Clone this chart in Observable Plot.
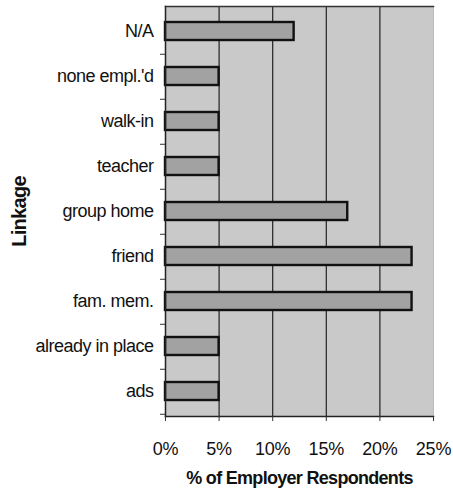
<!DOCTYPE html>
<html>
<head>
<meta charset="utf-8">
<script src="https://cdn.jsdelivr.net/npm/d3@7"></script>
<script src="https://cdn.jsdelivr.net/npm/@observablehq/plot@0.6"></script>
<style>
  html, body { margin: 0; padding: 0; background: #fff; }
  svg { font-family: "Liberation Sans", Arial, sans-serif; }
  g[aria-label="y-axis tick label"] text { letter-spacing: -0.5px; }
  g[aria-label="x-axis tick label"] text { letter-spacing: -0.2px; }
  g[aria-label="text"] text { letter-spacing: -0.7px; }
</style>
</head>
<body>
<div id="chart"></div>
<script>
const categories = ["N/A", "none empl.'d", "walk-in", "teacher", "group home", "friend", "fam. mem.", "already in place", "ads"];
const values = [12, 5, 5, 5, 17, 23, 23, 5, 5];
const xTicks = [0, 5, 10, 15, 20, 25];
const gridTicks = [5, 10, 15, 20];
const xLabel = "% of Employer Respondents";
const yLabel = "Linkage";

const data = categories.map((c, i) => ({cat: c, value: values[i]}));

const W = 453, H = 495, mT = 6, mB = 79, mL = 165, mR = 20;
const step = (H - mT - mB) / categories.length;

const chart = Plot.plot({
  width: W,
  height: H,
  marginLeft: mL,
  marginRight: mR,
  marginTop: mT,
  marginBottom: mB,
  style: {background: "#fff", color: "#111", fontFamily: "Liberation Sans, Arial, sans-serif"},
  x: {domain: [0, 25]},
  y: {domain: categories, paddingInner: 0.6, paddingOuter: 0.3},
  marks: [
    Plot.frame({fill: "#c9c9c9", stroke: "#bbb"}),
    Plot.ruleX(gridTicks, {stroke: "#222", strokeWidth: 1.2}),
    Plot.barX(data, {x: "value", y: "cat", fill: "#a2a2a2", stroke: "#111", strokeWidth: 2.4}),
    Plot.frame({anchor: "left", stroke: "#222", strokeWidth: 1.5}),
    Plot.frame({anchor: "bottom", stroke: "#222", strokeWidth: 1.5}),
    Plot.frame({anchor: "top", stroke: "#333", strokeWidth: 1.5}),
    Plot.axisY({tickSize: 0, tickPadding: 12, fontSize: 18, label: null}),
    Plot.axisY({tickSize: 5, text: null, dy: step / 2, label: null, stroke: "#333"}),
    Plot.axisX({ticks: xTicks, tickFormat: d => d + "%", tickSize: 5, tickPadding: 21, fontSize: 18, label: null, stroke: "#333"}),
    Plot.text([xLabel], {frameAnchor: "bottom", dy: 67, fontSize: 18, fontWeight: "bold", fill: "#111"}),
    Plot.text([yLabel], {frameAnchor: "left", textAnchor: "middle", dx: -146, rotate: -90, fontSize: 20, fontWeight: "bold", fill: "#111"})
  ]
});
document.getElementById("chart").appendChild(chart);
</script>
</body>
</html>
